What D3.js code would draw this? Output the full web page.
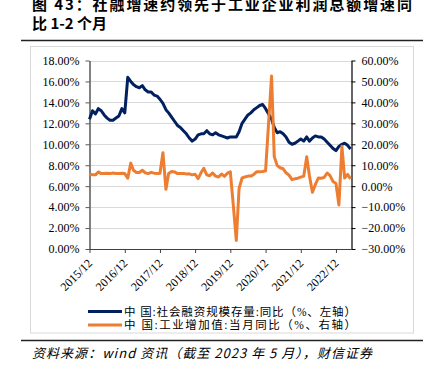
<!DOCTYPE html>
<html><head><meta charset="utf-8">
<script src="https://cdn.jsdelivr.net/npm/d3@7"></script>
<style>
html,body{margin:0;padding:0;background:#fff;}
svg{display:block;}
</style></head>
<body>
<svg id="c" width="432" height="378"></svg>
<script>
// ---- data ----
const startMonth = new Date(2015, 11, 1);
const endMonth = new Date(2023, 4, 1);
const tsfGrowth = [
  12.4,
  13.2,12.9,13.4,13.2,12.8,12.5,12.3,12.3,12.5,12.7,13.4,13.0,
  16.4,16.0,15.7,15.5,15.4,15.6,15.2,15.0,15.0,14.7,14.6,14.3,
  13.9,13.3,13.0,12.6,12.2,11.8,11.6,11.3,11.0,10.6,10.3,10.5,
  10.9,11.0,11.0,11.3,11.0,10.9,11.1,10.9,10.8,10.7,10.6,10.7,
  10.7,10.7,11.2,12.0,12.4,12.8,13.0,13.3,13.5,13.7,13.8,13.4,
  12.9,12.4,11.6,11.1,11.2,11.0,10.7,10.2,10.0,10.1,10.3,10.5,
  10.3,10.7,10.3,10.6,10.8,10.7,10.7,10.5,10.2,9.9,9.6,9.4,
  9.8,10.0,10.1,9.9,9.55
];
const ipGrowth = [
  5.9,
  5.4,5.4,6.8,6.0,6.0,6.2,6.0,6.3,6.1,6.1,6.2,6.0,
  3.8,11.0,7.6,6.5,6.5,7.6,6.4,6.0,6.6,6.2,6.1,6.2,
  16.0,-1.5,6.0,7.0,6.8,6.0,6.0,6.1,5.8,5.9,5.4,5.7,
  3.6,6.5,8.5,5.4,5.0,6.3,4.8,4.4,5.8,4.7,6.2,6.9,
  -9.0,-25.9,-1.1,3.9,4.4,4.8,4.8,5.6,6.9,6.9,7.0,7.3,
  30.0,52.6,14.1,9.8,8.8,8.3,6.4,5.3,3.1,3.5,3.8,4.3,
  4.8,14.0,5.0,-2.9,0.7,3.9,3.8,4.2,6.3,5.0,2.2,1.3,
  -9.0,19.0,3.9,5.6,3.5
];
const leftTicks = [0,2,4,6,8,10,12,14,16,18];
const rightTicks = [-30,-20,-10,0,10,20,30,40,50,60];
const xTickLabels = ["2015/12","2016/12","2017/12","2018/12","2019/12","2020/12","2021/12","2022/12"];
const seriesNames = ["中 国:社会融资规模存量:同比（%、左轴）","中 国:工业增加值:当月同比（%、右轴）"];
const titleLines = ["图 43：社融增速约领先于工业企业利润总额增速同","比 1-2 个月"];
const sourceText = "资料来源：wind 资讯（截至 2023 年 5 月），财信证券";

// ---- chart ----
const months = d3.timeMonth.range(startMonth, d3.timeMonth.offset(endMonth, 1));
const parseTick = d3.timeParse("%Y/%m");
const svg = d3.select("#c");
const L = 89.5, R = 351.5, T = 60.5, B = 249;
const x = d3.scaleTime().domain([startMonth, endMonth]).range([L, R - 1]);
const yL = d3.scaleLinear().domain([0, 18]).range([B, T]);
const yR = d3.scaleLinear().domain([-30, 60]).range([B, T]);
const serif = "'Liberation Serif','Times New Roman',serif";
const cjk = "'Noto Sans CJK SC','Noto Sans CJK JP',sans-serif";
const legendFont = "'Liberation Serif','Noto Sans CJK SC',serif";

// title
svg.append("text").attr("x", 32).attr("y", 10)
  .attr("font-family", cjk).attr("font-weight", "bold").attr("font-size", 15)
  .attr("textLength", 380).attr("lengthAdjust", "spacing")
  .text(titleLines[0]);
svg.append("text").attr("x", 32).attr("y", 29)
  .attr("font-family", cjk).attr("font-weight", "bold").attr("font-size", 15)
  .text(titleLines[1]);
svg.append("line").attr("x1", 21).attr("x2", 423).attr("y1", 40.5).attr("y2", 40.5)
  .attr("stroke", "#222").attr("stroke-width", 1.5);
// box
svg.append("rect").attr("x", 30.5).attr("y", 46.5).attr("width", 383).attr("height", 286.5)
  .attr("fill", "none").attr("stroke", "#d9d9d9").attr("stroke-width", 1);
svg.append("line").attr("x1", 21).attr("x2", 423).attr("y1", 340.5).attr("y2", 340.5)
  .attr("stroke", "#222").attr("stroke-width", 1.5);
svg.append("text").attr("x", 32).attr("y", 358)
  .attr("font-family", cjk).attr("font-style", "italic").attr("font-size", 13)
  .attr("textLength", 340).attr("lengthAdjust", "spacing")
  .text(sourceText);

// gridlines
svg.append("g").selectAll("line").data(leftTicks.filter(d => d > 0)).join("line")
  .attr("x1", L).attr("x2", R).attr("y1", d => Math.round(yL(d)) + 0.5).attr("y2", d => Math.round(yL(d)) + 0.5)
  .attr("stroke", "#d9d9d9").attr("stroke-width", 1);

// axes
const gL = svg.append("g").attr("transform", `translate(${L},0)`)
  .call(d3.axisLeft(yL).tickValues(leftTicks).tickSize(4).tickSizeOuter(0).tickFormat(d => d3.format(".2f")(d) + "%"));
gL.select(".domain").attr("stroke", "#595959").attr("stroke-width", 1.5);
gL.selectAll(".tick line").attr("stroke", "#595959");
gL.selectAll("text").attr("font-family", serif).attr("font-size", 12).attr("fill", "#000").attr("x", -10);

const gR = svg.append("g").attr("transform", `translate(${R},0)`)
  .call(d3.axisRight(yR).tickValues(rightTicks).tickSize(4).tickSizeOuter(0).tickFormat(d => d3.format(".2f")(d) + "%"));
gR.select(".domain").attr("stroke", "#000").attr("stroke-width", 1.2);
gR.selectAll(".tick line").attr("stroke", "#000");
gR.selectAll("text").attr("font-family", serif).attr("font-size", 12).attr("fill", "#000").attr("x", 10);

const gB = svg.append("g").attr("transform", `translate(0,${B})`)
  .call(d3.axisBottom(x).tickValues(xTickLabels.map(parseTick)).tickSize(4).tickSizeOuter(0).tickFormat(d3.timeFormat("%Y/%m")));
gB.select(".domain").attr("stroke", "#404040").attr("stroke-width", 1.2).attr("d", `M${L},0.5H${R}`);
gB.selectAll(".tick line").attr("stroke", "#404040");
gB.selectAll("text").attr("font-family", serif).attr("font-size", 12).attr("fill", "#000")
  .attr("text-anchor", "end").attr("dy", 0).attr("y", 0)
  .attr("transform", "translate(3,15) rotate(-45)");

// lines
const lineL = d3.line().x((d, i) => x(months[i])).y(d => yL(d));
const lineR = d3.line().x((d, i) => x(months[i])).y(d => yR(d));
svg.append("path").datum(tsfGrowth).attr("d", lineL)
  .attr("fill", "none").attr("stroke", "#002060").attr("stroke-width", 3).attr("stroke-linejoin", "round");
svg.append("path").datum(ipGrowth).attr("d", lineR)
  .attr("fill", "none").attr("stroke", "#ED7D31").attr("stroke-width", 3).attr("stroke-linejoin", "round");

// legend
const colors = ["#002060", "#ED7D31"];
const lg = svg.append("g").selectAll("g").data(seriesNames).join("g")
  .attr("transform", (d, i) => `translate(88,${311.5 + i * 13.5})`);
lg.append("line").attr("x1", 0).attr("x2", 34).attr("stroke", (d, i) => colors[i]).attr("stroke-width", 3);
lg.append("text").attr("x", 36).attr("y", 4).attr("font-family", legendFont).attr("font-size", 11.5)
  .attr("textLength", 232).attr("lengthAdjust", "spacing")
  .attr("fill", "#000").text(d => d);
</script>
</body></html>
